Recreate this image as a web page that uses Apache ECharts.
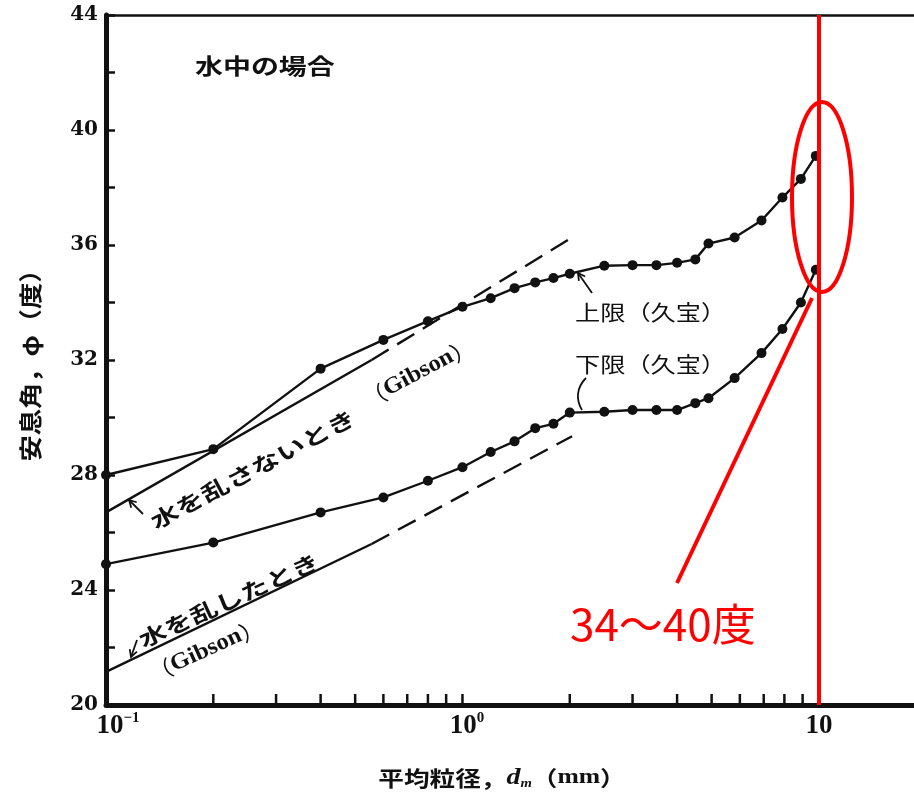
<!DOCTYPE html>
<html>
<head>
<meta charset="utf-8">
<script src="https://cdn.jsdelivr.net/npm/echarts@6/dist/echarts.min.js"></script>
<style>
  html, body { margin: 0; padding: 0; background: #fff; }
  #chart { width: 914px; height: 796px; }
</style>
</head>
<body>
<div id="chart"></div>
<script>
// 平均粒径 (mm)
var sizeX = [0.1, 0.2, 0.4, 0.6, 0.8, 1.0, 1.2, 1.4, 1.6, 1.8, 2.0, 2.5, 3.0, 3.5, 4.0, 4.5, 4.9, 5.8, 6.9, 7.9, 8.9, 9.8];
// 上限 / 下限 (久宝), 安息角 (度)
var upperY = [28.0, 28.9, 31.7, 32.7, 33.35, 33.85, 34.15, 34.5, 34.7, 34.85, 35.0, 35.28, 35.3, 35.3, 35.38, 35.5, 36.05, 36.26, 36.85, 37.65, 38.3, 39.1];
var lowerY = [24.9, 25.65, 26.7, 27.22, 27.8, 28.27, 28.8, 29.17, 29.63, 29.78, 30.17, 30.2, 30.26, 30.26, 30.26, 30.5, 30.67, 31.37, 32.24, 33.08, 34.0, 35.14];
// Gibson lines: solid part then dashed part
var gibsonX = [0.1, 0.556, 2.03];
var calmY = [26.7, 32.0, 36.26];   // 水を乱さないとき
var stirY = [21.15, 25.6, 29.35];  // 水を乱したとき
var xTicks = [0.1, 0.2, 0.3, 0.4, 0.5, 0.6, 0.7, 0.8, 0.9, 1, 2, 3, 4, 5, 6, 7, 8, 9, 10];
var xLabels = [0.1, 1, 10];
var markX = 10;

function pairs(xs, ys, from, to) {
  var out = [];
  for (var i = from; i <= to; i++) out.push([xs[i], ys[i]]);
  return out;
}

var ink = '#111';
var red = '#ff0000';

function arrow(x1, y1, x2, y2) {
  var a = Math.atan2(y2 - y1, x2 - x1), h = 8, w = 0.5;
  return [
    { type: 'line', shape: { x1: x1, y1: y1, x2: x2, y2: y2 }, style: { stroke: ink, lineWidth: 1.8 } },
    { type: 'polyline', shape: { points: [
      [x2 - h * Math.cos(a - w), y2 - h * Math.sin(a - w)], [x2, y2],
      [x2 - h * Math.cos(a + w), y2 - h * Math.sin(a + w)]] },
      style: { stroke: ink, lineWidth: 1.8, fill: null } }
  ];
}

function label(text, x, y, deg, size, sx, bold) {
  return {
    type: 'text', x: x, y: y, rotation: deg * Math.PI / 180, scaleX: sx,
    style: {
      text: text, fill: ink, align: 'left', verticalAlign: 'middle',
      fontSize: size, fontFamily: 'Noto Sans CJK JP', fontWeight: bold ? 'bold' : 'normal'
    }
  };
}

function gibsonTag(x, y, deg) {
  return {
    type: 'text', x: x, y: y, rotation: deg * Math.PI / 180, scaleX: 1.08,
    style: {
      text: '{p|（}{g|Gibson}{p|）}', fill: ink, align: 'left', verticalAlign: 'middle',
      rich: {
        p: { fontSize: 22, fontFamily: 'Noto Sans CJK JP', fill: ink },
        g: { fontSize: 23, fontFamily: 'Liberation Serif', fontWeight: 'bold', fill: ink }
      }
    }
  };
}

var chart = echarts.init(document.getElementById('chart'));

var lineSeries = function (data, dashed, symbol) {
  return {
    type: 'line', data: data, showSymbol: !!symbol, symbol: 'circle', symbolSize: 10,
    itemStyle: { color: ink }, lineStyle: { color: ink, width: 2.4, type: dashed ? [20, 10] : 'solid' },
    z: symbol ? 3 : 2
  };
};

var graphic = [
  label('水中の場合', 195, 66, 0, 22, 1.27, true),
  label('上限（久宝）', 575, 312, 0, 21, 1.2, false),
  label('下限（久宝）', 575, 364, 0, 21, 1.2, false),
  label('水を乱さないとき', 152, 523, 28, 21, 1.36, true),
  gibsonTag(364, 402, 28),
  label('水を乱したとき', 140, 641, 24.5, 21, 1.33, true),
  gibsonTag(150, 676, 24.5),
  {
    type: 'text', x: 30, y: 359, rotation: Math.PI / 2, scaleX: 1.25, scaleY: 1.1,
    style: { text: '安息角，φ（度）', fill: ink, align: 'center', verticalAlign: 'middle',
      fontSize: 21, fontFamily: 'Noto Sans CJK JP', fontWeight: 'bold' }
  },
  {
    type: 'text', x: 502, y: 778, scaleX: 1.22,
    style: {
      text: '{c|平均粒径，}{d|d}{m|m}{c|（}{r|mm}{c|）}', fill: ink, align: 'center', verticalAlign: 'middle',
      rich: {
        c: { fontSize: 21, fontFamily: 'Noto Sans CJK JP', fontWeight: 'bold', fill: ink },
        d: { fontSize: 23, fontFamily: 'Liberation Serif', fontStyle: 'italic', fontWeight: 'bold', fill: ink },
        m: { fontSize: 12, fontFamily: 'Liberation Serif', fontStyle: 'italic', fontWeight: 'bold', fill: ink, verticalAlign: 'bottom' },
        r: { fontSize: 21, fontFamily: 'Liberation Serif', fontWeight: 'bold', fill: ink }
      }
    }
  },
  {
    type: 'bezierCurve', shape: { x1: 586, y1: 378, cpx1: 576, cpy1: 388, cpx2: 576, cpy2: 400, x2: 582, y2: 410 },
    style: { stroke: ink, lineWidth: 1.8, fill: null }
  },
  { type: 'ellipse', shape: { cx: 822, cy: 197, rx: 30, ry: 95 }, style: { stroke: red, lineWidth: 4, fill: null }, z: 10 },
  { type: 'line', shape: { x1: 812, y1: 298, x2: 677, y2: 583 }, style: { stroke: red, lineWidth: 4 }, z: 10 },
  {
    type: 'text', x: 570, y: 624, z: 10,
    style: { text: '34～40度', fill: red, align: 'left', verticalAlign: 'middle', fontSize: 44, fontFamily: 'Noto Sans CJK JP' }
  }
].concat(arrow(143, 514, 129, 500), arrow(137, 640, 131, 657), arrow(592, 293, 578, 273));

var option = {
  backgroundColor: '#fff',
  animation: false,
  grid: { left: 106, right: 0, top: 15, bottom: 91 },
  xAxis: [{
    type: 'log', min: 0.1, max: 18.48, logBase: 10,
    axisLine: { lineStyle: { color: ink, width: 5 } },
    axisTick: { show: false },
    splitLine: { show: false },
    axisLabel: {
      customValues: xLabels, margin: 6,
      formatter: function (v) {
        var p = Math.round(Math.log10(v));
        if (p === -1) return '{p1|}{b|10}{s|−1}';
        if (p === 0) return '{p0|}{b|10}{s|0}';
        return '{b|10}';
      },
      rich: {
        b: { fontSize: 27, fontFamily: 'Liberation Serif', fontWeight: 'bold', color: ink, lineHeight: 30 },
        s: { fontSize: 15, fontFamily: 'Liberation Serif', fontWeight: 'bold', color: ink, verticalAlign: 'top', lineHeight: 15 },
        p1: { width: 24 },
        p0: { width: 9 }
      }
    }
  }, {
    type: 'log', min: 0.1, max: 18.48, position: 'top',
    axisLine: { lineStyle: { color: ink, width: 2.5 } },
    axisTick: { show: false }, axisLabel: { show: false }, splitLine: { show: false }
  }],
  yAxis: {
    type: 'value', min: 20, max: 44, interval: 4,
    axisLine: { show: true, lineStyle: { color: ink, width: 5 } },
    axisTick: { show: true, inside: true, length: 9, lineStyle: { color: ink, width: 2.5 } },
    minorTick: { show: true, splitNumber: 2, length: 9, lineStyle: { color: ink, width: 2.5 } },
    splitLine: { show: false },
    axisLabel: { margin: 8, fontSize: 20, fontFamily: 'DejaVu Serif', fontWeight: 'bold', color: ink }
  },
  series: [
    Object.assign(lineSeries(pairs(sizeX, upperY, 0, sizeX.length - 1), false, true), {
      markLine: {
        silent: true, symbol: 'none', label: { show: false },
        lineStyle: { color: red, width: 4, type: 'solid' },
        data: [{ xAxis: markX }]
      }
    }),
    lineSeries(pairs(sizeX, lowerY, 0, sizeX.length - 1), false, true),
    lineSeries(pairs(gibsonX, calmY, 0, 1), false, false),
    lineSeries(pairs(gibsonX, calmY, 1, 2), true, false),
    lineSeries(pairs(gibsonX, stirY, 0, 1), false, false),
    lineSeries(pairs(gibsonX, stirY, 1, 2), true, false)
  ],
  graphic: graphic
};

chart.setOption(option);

// x-axis ticks (1..9 per decade), placed through the log axis
var baseY = chart.convertToPixel({ yAxisIndex: 0 }, 20);
var tickMarks = xTicks.map(function (v) {
  var px = chart.convertToPixel({ xAxisIndex: 0 }, v);
  return { type: 'line', shape: { x1: px, y1: baseY, x2: px, y2: baseY - 11 }, style: { stroke: ink, lineWidth: 2.5 } };
});
chart.setOption({ graphic: graphic.concat(tickMarks) });
</script>
</body>
</html>
